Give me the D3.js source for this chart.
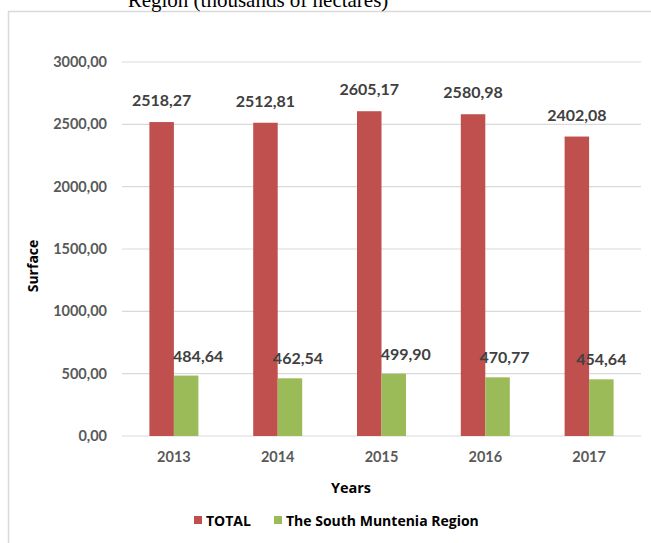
<!DOCTYPE html>
<html>
<head>
<meta charset="utf-8">
<script src="https://cdn.jsdelivr.net/npm/d3@7"></script>
<style>
  body { margin: 0; background: #fff; }
  text { font-family: Lato, "Open Sans", sans-serif; }
</style>
</head>
<body>
<div id="chart"></div>
<script>
// données
const years = ["2013", "2014", "2015", "2016", "2017"];
const total = [2518.27, 2512.81, 2605.17, 2580.98, 2402.08];
const southMuntenia = [484.64, 462.54, 499.90, 470.77, 454.64];
const yTicks = [0, 500, 1000, 1500, 2000, 2500, 3000];
const seriesNames = ["TOTAL", "The South Muntenia Region"];

const colors = ["#c0504d", "#9bbb59"];
// petit décalage des étiquettes vertes (comme dans l'original)
const greenNudge = [12, 8, 12, 7, 0];

const W = 651, H = 543;
const margin = { top: 62, right: 10, bottom: 107, left: 122 };
const width = 641 - margin.left, height = 436 - margin.top;

const svg = d3.select("#chart").append("svg")
    .attr("width", W)
    .attr("height", H);

// cadre du graphique
svg.append("rect")
    .attr("x", 8.5).attr("y", 11.5)
    .attr("width", 700).attr("height", 600)
    .attr("fill", "none")
    .attr("stroke", "#d9d9d9")
    .attr("stroke-width", 1.5);

// titre coupé en haut
svg.append("text")
    .attr("x", 258).attr("y", 7)
    .attr("text-anchor", "middle")
    .style("font-family", "'Liberation Serif', 'Times New Roman', serif")
    .style("font-size", "21px")
    .attr("fill", "#000")
    .text("Region (thousands of hectares)");

const g = svg.append("g")
    .attr("transform", `translate(${margin.left},${margin.top})`);

const x = d3.scaleBand()
    .domain(years)
    .range([0, width]);

const y = d3.scaleLinear()
    .domain([0, 3000])
    .range([height, 0]);

const barW = 24.5;

// grille
g.selectAll(".grid")
    .data(yTicks)
    .enter().append("line")
    .attr("x1", 0).attr("x2", width)
    .attr("y1", d => y(d)).attr("y2", d => y(d))
    .attr("stroke", "#d9d9d9")
    .attr("stroke-width", 1.2);

// axe y
const yAxis = g.append("g")
    .call(d3.axisLeft(y).tickValues(yTicks).tickSize(0).tickPadding(15)
        .tickFormat(d => d3.format(".2f")(d).replace(".", ",")));
yAxis.select(".domain").remove();
yAxis.selectAll("text")
    .style("font-family", "Lato, sans-serif")
    .style("font-size", "14.5px")
    .style("font-weight", "bold")
    .attr("fill", "#595959");

// axe x
const xAxis = g.append("g")
    .attr("transform", `translate(0,${height})`)
    .call(d3.axisBottom(x).tickSize(0).tickPadding(16));
xAxis.select(".domain").remove();
xAxis.selectAll("text")
    .style("font-family", "Lato, sans-serif")
    .style("font-size", "14.5px")
    .style("font-weight", "bold")
    .attr("fill", "#595959");

// barres TOTAL
g.selectAll(".barTotal")
    .data(total)
    .enter().append("rect")
    .attr("x", (d, i) => x(years[i]) + x.bandwidth() / 2 - barW)
    .attr("y", d => y(d))
    .attr("width", barW)
    .attr("height", d => height - y(d))
    .attr("fill", colors[0]);

// barres région
g.selectAll(".barSM")
    .data(southMuntenia)
    .enter().append("rect")
    .attr("x", (d, i) => x(years[i]) + x.bandwidth() / 2)
    .attr("y", d => y(d))
    .attr("width", barW)
    .attr("height", d => height - y(d))
    .attr("fill", colors[1]);

const fmt = v => d3.format(".2f")(v).replace(".", ",");

// étiquettes
g.selectAll(".lblTotal")
    .data(total)
    .enter().append("text")
    .attr("x", (d, i) => x(years[i]) + x.bandwidth() / 2 - barW / 2)
    .attr("y", d => y(d) - 16)
    .attr("text-anchor", "middle")
    .style("font-size", "16px")
    .style("font-weight", "bold")
    .attr("fill", "#404040")
    .text(fmt);

g.selectAll(".lblSM")
    .data(southMuntenia)
    .enter().append("text")
    .attr("x", (d, i) => x(years[i]) + x.bandwidth() / 2 + barW / 2 + greenNudge[i])
    .attr("y", d => y(d) - 14)
    .attr("text-anchor", "middle")
    .style("font-size", "16px")
    .style("font-weight", "bold")
    .attr("fill", "#404040")
    .text(fmt);

// titre des axes
svg.append("text")
    .attr("transform", "translate(38,266) rotate(-90)")
    .attr("text-anchor", "middle")
    .style("font-family", "'Open Sans', sans-serif")
    .style("font-size", "14px")
    .style("font-weight", "bold")
    .attr("fill", "#000")
    .text("Surface");

svg.append("text")
    .attr("x", 351).attr("y", 493)
    .attr("text-anchor", "middle")
    .style("font-family", "'Open Sans', sans-serif")
    .style("font-size", "14.5px")
    .style("font-weight", "bold")
    .attr("fill", "#000")
    .text("Years");

// légende
const legX = [194, 274];
seriesNames.forEach(function(name, i) {
    svg.append("rect")
        .attr("x", legX[i]).attr("y", 516)
        .attr("width", 8).attr("height", 8)
        .attr("fill", colors[i]);
    svg.append("text")
        .attr("x", legX[i] + 12).attr("y", 526)
        .style("font-family", "'Open Sans', sans-serif")
        .style("font-size", "14px")
        .style("font-weight", "bold")
        .attr("fill", "#000")
        .text(name);
});
</script>
</body>
</html>
